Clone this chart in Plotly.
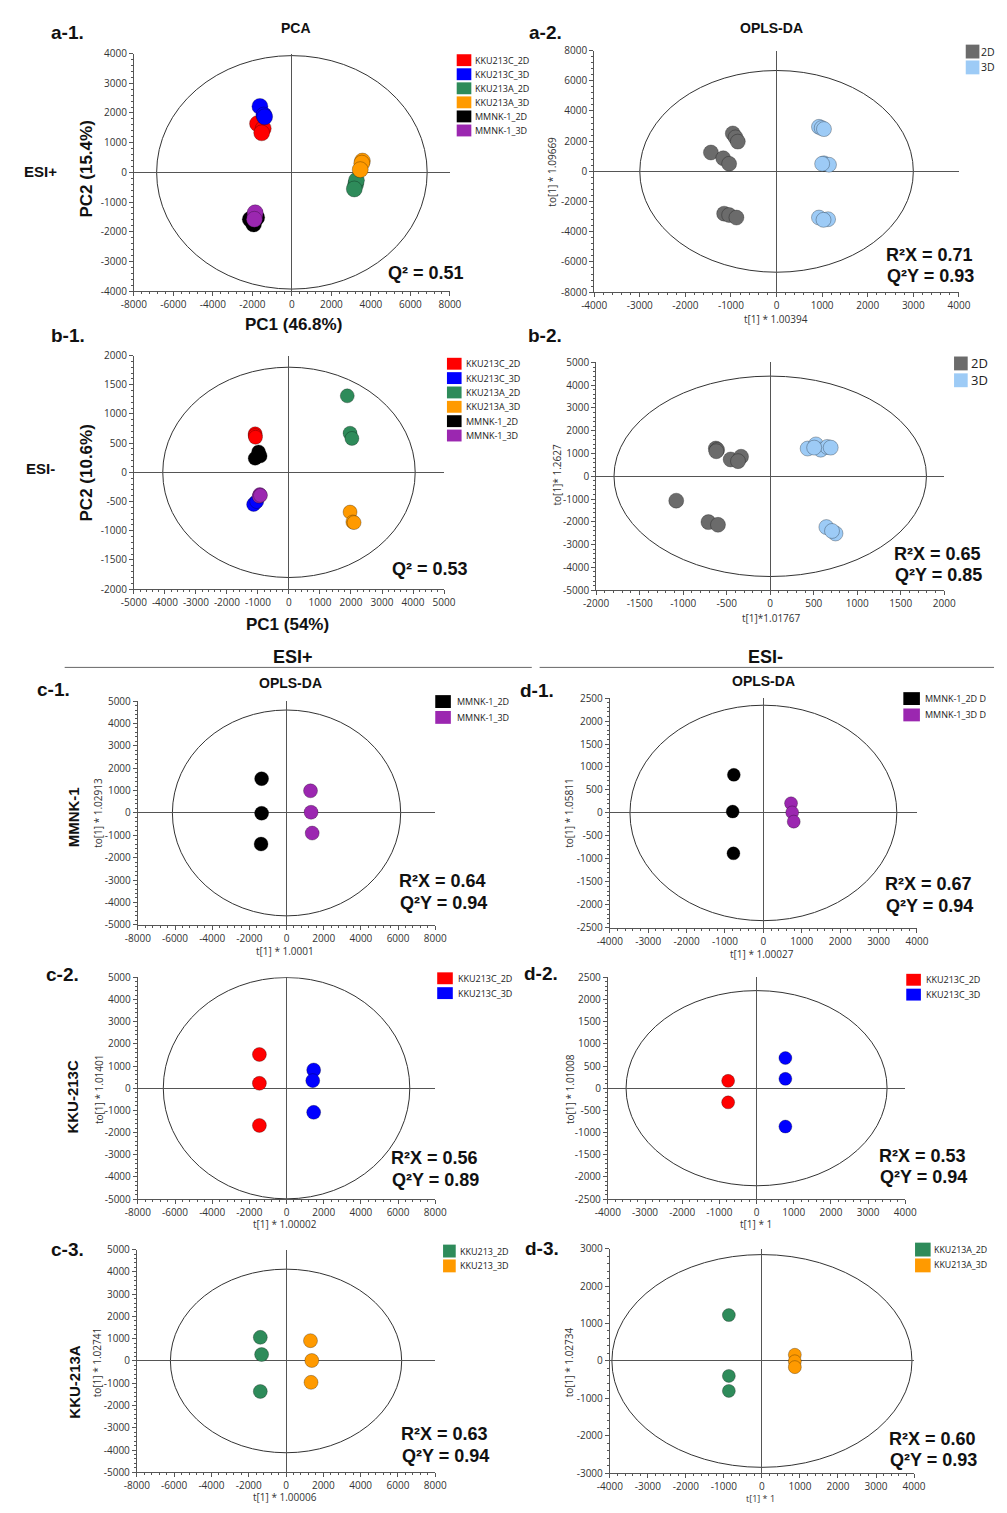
import plotly.graph_objects as go

W, H = 1007, 1513

# ---------------- DATA ----------------
# a-1 PCA ESI+
A1_KKU213C_2D_X = [-1740, -1450, -1530]
A1_KKU213C_2D_Y = [1640, 1480, 1330]
A1_KKU213C_3D_X = [-1620, -1420, -1380]
A1_KKU213C_3D_Y = [2220, 1930, 1870]
A1_KKU213A_2D_X = [3230, 3270, 3160]
A1_KKU213A_2D_Y = [-400, -270, -560]
A1_KKU213A_3D_X = [3570, 3540, 3460]
A1_KKU213A_3D_Y = [380, 310, 90]
A1_MMNK1_2D_X = [-2110, -1780, -1940]
A1_MMNK1_2D_Y = [-1580, -1520, -1740]
A1_MMNK1_3D_X = [-1880, -1860, -1900]
A1_MMNK1_3D_Y = [-1470, -1360, -1580]

# a-2 OPLS-DA ESI+
A2_2D_X = [-960, -900, -850, -1440, -1170, -1040, -1150, -1040, -880]
A2_2D_Y = [2510, 2250, 1970, 1250, 870, 500, -2800, -2890, -3060]
A2_3D_X = [930, 990, 1040, 1040, 1150, 1000, 930, 1130, 1030]
A2_3D_Y = [2950, 2870, 2800, 530, 440, 500, -3060, -3170, -3210]

# b-1 PCA ESI-
B1_KKU213C_2D_X = [-1090, -1090, -1080]
B1_KKU213C_2D_Y = [660, 630, 600]
B1_KKU213C_3D_X = [-1090, -1140, -1040]
B1_KKU213C_3D_Y = [-520, -550, -500]
B1_KKU213A_2D_X = [1880, 1970, 2030]
B1_KKU213A_2D_Y = [1310, 670, 580]
B1_KKU213A_3D_X = [1970, 2060, 2100]
B1_KKU213A_3D_Y = [-680, -850, -860]
B1_MMNK1_2D_X = [-980, -1090, -930]
B1_MMNK1_2D_Y = [350, 240, 280]
B1_MMNK1_3D_X = [-940, -960, -920]
B1_MMNK1_3D_Y = [-380, -410, -395]

# b-2 OPLS-DA ESI-
B2_2D_X = [-625, -610, -620, -455, -335, -370, -1080, -710, -600]
B2_2D_Y = [1220, 1160, 1100, 740, 860, 665, -1070, -2010, -2130]
B2_3D_X = [430, 525, 580, 655, 695, 505, 645, 750, 710]
B2_3D_Y = [1220, 1400, 1170, 1290, 1260, 1260, -2230, -2510, -2400]

# c/d OPLS-DA per cell line
C1_2D_X = [-1340, -1340, -1370]
C1_2D_Y = [1530, -15, -1390]
C1_3D_X = [1290, 1320, 1380]
C1_3D_Y = [990, 30, -900]
D1_2D_X = [-770, -800, -780]
D1_2D_Y = [830, 30, -880]
D1_3D_X = [720, 750, 790]
D1_3D_Y = [210, 10, -190]
C2_2D_X = [-1460, -1460, -1460]
C2_2D_Y = [1520, 220, -1680]
C2_3D_X = [1460, 1410, 1460]
C2_3D_Y = [820, 340, -1090]
D2_2D_X = [-765, -765]
D2_2D_Y = [165, -320]
D2_3D_X = [775, 775, 775]
D2_3D_Y = [680, 210, -865]
C3_2D_X = [-1380, -1310, -1380]
C3_2D_Y = [1060, 290, -1370]
C3_3D_X = [1310, 1380, 1340]
C3_3D_Y = [910, 20, -960]
D3_2D_X = [-870, -870, -870]
D3_2D_Y = [1225, -400, -800]
D3_3D_X = [865, 865, 865]
D3_3D_Y = [165, -10, -165]

# Hotelling T2 ellipse semi-axes (x, y)
ELLIPSES = {
    "a1": (6850, 3930), "a2": (3000, 6680), "b1": (4070, 1800), "b2": (1795, 4400),
    "c1": (6140, 4600), "d1": (3475, 2345), "c2": (6630, 4990), "d2": (3510, 2200),
    "c3": (6200, 4120), "d3": (3945, 2840),
}

LEG6 = ["KKU213C_2D", "KKU213C_3D", "KKU213A_2D", "KKU213A_3D", "MMNK-1_2D", "MMNK-1_3D"]

# ---------------- STYLE ----------------
RED, BLUE, GREEN, ORANGE = "#ff0000", "#0000ff", "#2e8b5a", "#ff9a00"
BLACK, PURPLE, GRAY, LBLUE = "#000000", "#9b27b0", "#6b6b6b", "#9dcbf6"
AX = "#555555"
TICKFONT = dict(family="Open Sans, Noto Sans, sans-serif", size=10, color="#333333")
BOLD = "Liberation Sans, Arial, sans-serif"
SMALL = "Open Sans, Noto Sans, sans-serif"

def fx(p):
    return p / W

def fy(p):
    return 1 - p / H

# panel spec: id, x-domain px, y-domain px (top,bottom), xrange, yrange, xdtick, ydtick, marker size, groups
PANELS = [
    ("a1", (124, 448), (46, 286), (-8000, 8000), (-4000, 4000), 2000, 1000, 16,
     [(A1_KKU213C_2D_X, A1_KKU213C_2D_Y, RED), (A1_KKU213C_3D_X, A1_KKU213C_3D_Y, BLUE),
      (A1_KKU213A_2D_X, A1_KKU213A_2D_Y, GREEN), (A1_KKU213A_3D_X, A1_KKU213A_3D_Y, ORANGE),
      (A1_MMNK1_2D_X, A1_MMNK1_2D_Y, BLACK), (A1_MMNK1_3D_X, A1_MMNK1_3D_Y, PURPLE)]),
    ("a2", (596, 970), (43, 287), (-4000, 4000), (-8000, 8000), 1000, 2000, 15,
     [(A2_2D_X, A2_2D_Y, GRAY), (A2_3D_X, A2_3D_Y, LBLUE)]),
    ("b1", (124, 442), (351, 587), (-5000, 5000), (-2000, 2000), 1000, 500, 14,
     [(B1_KKU213C_2D_X, B1_KKU213C_2D_Y, RED), (B1_KKU213C_3D_X, B1_KKU213C_3D_Y, BLUE),
      (B1_KKU213A_2D_X, B1_KKU213A_2D_Y, GREEN), (B1_KKU213A_3D_X, B1_KKU213A_3D_Y, ORANGE),
      (B1_MMNK1_2D_X, B1_MMNK1_2D_Y, BLACK), (B1_MMNK1_3D_X, B1_MMNK1_3D_Y, PURPLE)]),
    ("b2", (598, 955), (358, 588), (-2000, 2000), (-5000, 5000), 500, 1000, 15,
     [(B2_2D_X, B2_2D_Y, GRAY), (B2_3D_X, B2_3D_Y, LBLUE)]),
    ("c1", (128, 433), (700, 926), (-8000, 8000), (-5000, 5000), 2000, 1000, 14,
     [(C1_2D_X, C1_2D_Y, BLACK), (C1_3D_X, C1_3D_Y, PURPLE)]),
    ("d1", (612, 927), (697, 929), (-4000, 4000), (-2500, 2500), 1000, 500, 13,
     [(D1_2D_X, D1_2D_Y, BLACK), (D1_3D_X, D1_3D_Y, PURPLE)]),
    ("c2", (128, 433), (979, 1203), (-8000, 8000), (-5000, 5000), 2000, 1000, 14,
     [(C2_2D_X, C2_2D_Y, RED), (C2_3D_X, C2_3D_Y, BLUE)]),
    ("d2", (610, 915), (979, 1203), (-4000, 4000), (-2500, 2500), 1000, 500, 13,
     [(D2_2D_X, D2_2D_Y, RED), (D2_3D_X, D2_3D_Y, BLUE)]),
    ("c3", (127, 433), (1254, 1479), (-8000, 8000), (-5000, 5000), 2000, 1000, 14,
     [(C3_2D_X, C3_2D_Y, GREEN), (C3_3D_X, C3_3D_Y, ORANGE)]),
    ("d3", (612, 924), (1253, 1480), (-4000, 4000), (-3000, 3000), 1000, 1000, 13,
     [(D3_2D_X, D3_2D_Y, GREEN), (D3_3D_X, D3_3D_Y, ORANGE)]),
]

fig = go.Figure()
layout = dict(width=W, height=H, autosize=False, margin=dict(l=0, r=0, t=0, b=0, pad=0),
              paper_bgcolor="white", plot_bgcolor="white", showlegend=False)
shapes = []
annotations = []

def ticks(lo, hi, step):
    vals = []
    v = lo
    while v <= hi + 1e-9:
        vals.append(v)
        v += step
    return vals

for i, (pid, xd, yd, xr, yr, xdt, ydt, msize, groups) in enumerate(PANELS):
    n = i + 1
    xa = "xaxis" if n == 1 else f"xaxis{n}"
    ya = "yaxis" if n == 1 else f"yaxis{n}"
    xref = "x" if n == 1 else f"x{n}"
    yref = "y" if n == 1 else f"y{n}"
    xv = ticks(xr[0], xr[1], xdt)
    yv = ticks(yr[0], yr[1], ydt)
    common = dict(showgrid=False, zeroline=True, zerolinecolor=AX, zerolinewidth=1,
                  showline=True, linecolor=AX, linewidth=1, ticks="outside", ticklen=4,
                  tickcolor=AX, tickwidth=1, tickfont=TICKFONT, fixedrange=True)
    layout[xa] = dict(common, domain=[fx(xd[0]), fx(xd[1])], range=list(xr), anchor=yref,
                      tickmode="array", tickvals=xv, ticktext=[str(v) for v in xv],
                      minor=dict(ticks="outside", ticklen=2, tickcolor=AX, dtick=xdt / 5, tick0=0))
    layout[ya] = dict(common, domain=[fy(yd[1]), fy(yd[0])], range=list(yr), anchor=xref,
                      tickmode="array", tickvals=yv, ticktext=[str(v) for v in yv],
                      minor=dict(ticks="outside", ticklen=2, tickcolor=AX, dtick=ydt / 5, tick0=0))
    a, b = ELLIPSES[pid]
    shapes.append(dict(type="circle", xref=xref, yref=yref, x0=-a, x1=a, y0=-b, y1=b,
                       line=dict(color="#333333", width=1), layer="below"))
    for gx, gy, col in groups:
        fig.add_trace(go.Scatter(x=gx, y=gy, mode="markers", xaxis=xref, yaxis=yref,
                                 marker=dict(size=msize, color=col,
                                             line=dict(width=0.8, color="rgba(0,0,0,0.35)")),
                                 hoverinfo="skip"))

def ann(text, x, y, size, family=BOLD, angle=0, xanchor="center", color="#111111", yanchor="middle"):
    annotations.append(dict(text=text, x=fx(x), y=fy(y), xref="paper", yref="paper",
                            showarrow=False, xanchor=xanchor, yanchor=yanchor,
                            textangle=angle, borderpad=0,
                            font=dict(family=family, size=size, color=color)))

def legend(labels, colors, x0, yc, step, sw, sh, size, tx):
    for k, (lab, col) in enumerate(zip(labels, colors)):
        yy = yc + k * step
        shapes.append(dict(type="rect", xref="paper", yref="paper",
                           x0=fx(x0), x1=fx(x0 + sw), y0=fy(yy + sh / 2), y1=fy(yy - sh / 2),
                           fillcolor=col, line=dict(width=0)))
        ann(lab, tx, yy, size, family=SMALL, xanchor="left", color="#222222")

# panel letters
for lab, x, y in [("a-1.", 56, 25), ("a-2.", 546, 25), ("b-1.", 56, 331), ("b-2.", 546, 331),
                  ("c-1.", 42, 688), ("d-1.", 537, 689), ("c-2.", 51, 976), ("d-2.", 541, 975),
                  ("c-3.", 56, 1254), ("d-3.", 542, 1253)]:
    ann(f"<b>{lab}</b>", x, y, 19)

# titles
ann("<b>PCA</b>", 290, 20, 14)
ann("<b>OPLS-DA</b>", 778, 20, 14)
ann("<b>OPLS-DA</b>", 285, 682, 14)
ann("<b>OPLS-DA</b>", 770, 680, 14)
ann("<b>ESI+</b>", 28, 165, 15)
ann("<b>ESI-</b>", 28, 465, 15)
ann("<b>ESI+</b>", 287, 655, 18)
ann("<b>ESI-</b>", 772, 655, 18)
shapes.append(dict(type="line", xref="paper", yref="paper", x0=fx(53), x1=fx(532),
                   y0=fy(666), y1=fy(666), line=dict(color="#666666", width=1)))
shapes.append(dict(type="line", xref="paper", yref="paper", x0=fx(540), x1=fx(1006),
                   y0=fy(666), y1=fy(666), line=dict(color="#666666", width=1)))

# row labels
ann("<b>MMNK-1</b>", 62, 817, 15, angle=-90)
ann("<b>KKU-213C</b>", 61, 1099, 15, angle=-90)
ann("<b>KKU-213A</b>", 63, 1387, 15, angle=-90)

# axis titles
ann("<b>PC2 (15.4%)</b>", 75, 163, 17, angle=-90)
ann("<b>PC1 (46.8%)</b>", 288, 320, 17)
ann("<b>PC2 (10.6%)</b>", 75, 470, 17, angle=-90)
ann("<b>PC1 (54%)</b>", 282, 623, 17)
for txt, x, y, ang in [("to[1] * 1.09669", 553, 165, -90), ("t[1] * 1.00394", 782, 314, 0),
                       ("to[1]* 1.2627", 558, 472, -90), ("t[1]*1.01767", 778, 616, 0),
                       ("to[1] * 1.02913", 87, 813, -90), ("t[1] * 1.0001", 279, 952, 0),
                       ("to[1] * 1.05811", 570, 813, -90), ("t[1] * 1.00027", 768, 955, 0),
                       ("to[1] * 1.01401", 88, 1092, -90), ("t[1] * 1.00002", 279, 1228, 0),
                       ("to[1] * 1.01008", 571, 1092, -90), ("t[1] * 1", 762, 1228, 0),
                       ("to[1] * 1.02741", 87, 1368, -90), ("t[1] * 1.00006", 279, 1504, 0),
                       ("to[1] * 1.02734", 571, 1368, -90)]:
    ann(txt, x, y, 10, family=SMALL, angle=ang, color="#333333")
ann("t[1] * 1", 767, 1513, 9, family=SMALL, color="#333333", yanchor="bottom")

# statistics (unicode superscript two)
ann("<b>Q\u00b2 = 0.51</b>", 464, 268, 18, xanchor="right")
ann("<b>Q\u00b2 = 0.53</b>", 468, 567, 18, xanchor="right")
for r2, q2, xr_, y1 in [("0.71", "0.93", 985, 249), ("0.65", "0.85", 994, 551),
                        ("0.64", "0.94", 486, 882), ("0.67", "0.94", 984, 885),
                        ("0.56", "0.89", 478, 1162), ("0.53", "0.94", 978, 1159),
                        ("0.63", "0.94", 488, 1440), ("0.60", "0.93", 989, 1445)]:
    ann(f"<b>R\u00b2X = {r2}</b>", xr_, y1, 18, xanchor="right")
    ann(f"<b>Q\u00b2Y = {q2}</b>", xr_ + 1, y1 + 22, 18, xanchor="right")

# legends
C6 = [RED, BLUE, GREEN, ORANGE, BLACK, PURPLE]
legend(LEG6, C6, 455, 52.7, 14.2, 15, 12, 9, 473)
legend(LEG6, C6, 445, 359.3, 14.5, 15, 12, 9, 464)
legend(["2D", "3D"], [GRAY, LBLUE], 977, 44, 16, 14, 14, 10.5, 992)
legend(["2D", "3D"], [GRAY, LBLUE], 965, 359, 17, 14, 14, 13, 981)
legend(["MMNK-1_2D D", "MMNK-1_3D D"], [BLACK, PURPLE], 913, 697.5, 16.5, 17, 13, 9, 934)
legend(["MMNK-1_2D", "MMNK-1_3D"], [BLACK, PURPLE], 433, 700.5, 16, 16, 13, 9, 454)
legend(["KKU213C_2D", "KKU213C_3D"], [RED, BLUE], 435, 980, 15, 16, 12, 9, 455)
legend(["KKU213C_2D", "KKU213C_3D"], [RED, BLUE], 916, 981.5, 15, 15, 12, 9, 935)
legend(["KKU213_2D", "KKU213_3D"], [GREEN, ORANGE], 441, 1255.5, 15, 13, 13, 9, 457)
legend(["KKU213A_2D", "KKU213A_3D"], [GREEN, ORANGE], 925, 1254, 16, 16, 14, 8.8, 943)

layout["shapes"] = shapes
layout["annotations"] = annotations
fig.update_layout(**layout)
fig.write_html("out.html", config={"displayModeBar": False},
               post_script="document.body.style.margin='0px';"
                           "document.documentElement.style.overflow='hidden';")
